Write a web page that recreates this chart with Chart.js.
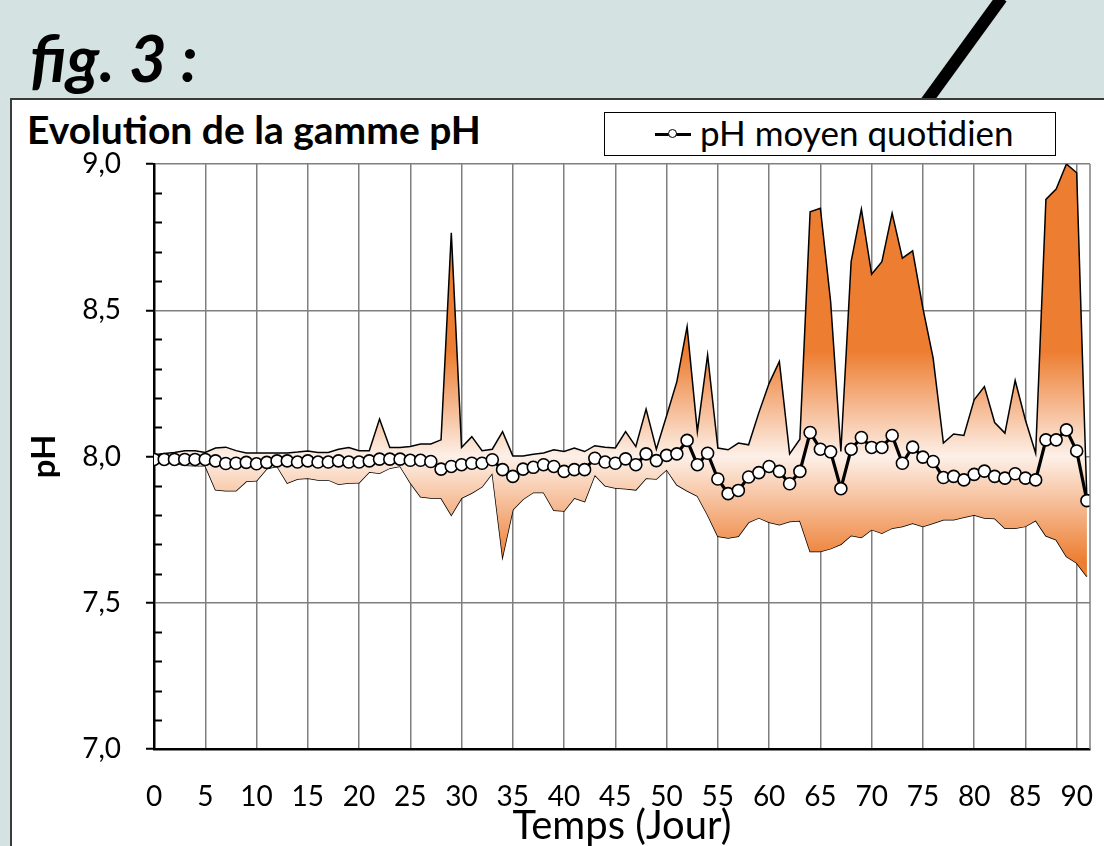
<!DOCTYPE html>
<html>
<head>
<meta charset="utf-8">
<script src="https://cdn.jsdelivr.net/npm/chart.js@4.4.1/dist/chart.umd.min.js"></script>
<style>
  html, body { margin: 0; padding: 0; }
  body { width: 1104px; height: 846px; overflow: hidden; position: relative; background: #d4e3e1; font-family: Lato, "Open Sans", sans-serif; }
  #slash { position: absolute; left: 956px; top: -15px; width: 12px; height: 135px; background: #000; transform: rotate(36deg); }
  #box { position: absolute; left: 10px; top: 98px; width: 1110px; height: 760px; background: #fff; border-top: 2px solid #3a3a3a; border-left: 2px solid #3a3a3a; }
  #fig { position: absolute; left: 30px; top: 25px; font: italic bold 65px Lato, sans-serif; line-height: 64px; color: #000; }
  #title { position: absolute; left: 27px; top: 107px; font: bold 39px Lato, sans-serif; line-height: 44px; color: #000; }
  #legend { position: absolute; left: 604px; top: 112px; width: 450px; height: 42px; border: 1.5px solid #000; background: #fff; }
  #legend .ln { position: absolute; left: 50px; top: 20px; width: 36px; height: 2.5px; background: #000; }
  #legend .pt { position: absolute; left: 63px; top: 16px; width: 7px; height: 7px; border: 1.5px solid #000; border-radius: 50%; background: #fff; }
  #legend .tx { position: absolute; left: 95px; top: -1px; font: 35px Lato, sans-serif; line-height: 40px; color: #000; }
  #chart { position: absolute; left: 0; top: 0; }
</style>
</head>
<body>
<div id="slash"></div>
<div id="box"></div>
<div id="fig">fig. 3 :</div>
<div id="title">Evolution de la gamme pH</div>
<div id="legend"><div class="ln"></div><div class="pt"></div><div class="tx">pH moyen quotidien</div></div>
<canvas id="chart" width="1104" height="846"></canvas>
<script>
// Jours
const days = [0,1,2,3,4,5,6,7,8,9,10,11,12,13,14,15,16,17,18,19,20,21,22,23,24,25,26,27,28,29,
  30,31,32,33,34,35,36,37,38,39,40,41,42,43,44,45,46,47,48,49,50,51,52,53,54,55,56,57,58,59,
  60,61,62,63,64,65,66,67,68,69,70,71,72,73,74,75,76,77,78,79,80,81,82,83,84,85,86,87,88,89,90,91];

// pH moyen quotidien
const phMean = [7.99,7.99,7.99,7.99,7.99,7.99,7.985,7.976,7.977,7.98,7.975,7.98,7.985,7.985,7.981,7.985,7.981,7.981,7.985,7.981,
  7.981,7.985,7.991,7.991,7.991,7.987,7.987,7.983,7.957,7.966,7.972,7.977,7.977,7.989,7.955,7.932,7.957,7.963,7.972,7.966,
  7.949,7.955,7.955,7.994,7.981,7.977,7.992,7.972,8.009,7.986,8.004,8.009,8.055,7.972,8.011,7.923,7.873,7.884,7.930,7.945,
  7.966,7.949,7.907,7.949,8.082,8.025,8.016,7.890,8.025,8.065,8.031,8.031,8.072,7.977,8.032,7.998,7.983,7.928,7.932,7.920,
  7.939,7.950,7.932,7.926,7.941,7.926,7.920,8.057,8.057,8.091,8.019,7.849];

// pH maximum
const phMax = [8.006,8.01,8.014,8.02,8.02,8.014,8.029,8.032,8.02,8.012,8.012,8.012,8.012,8.012,8.015,8.019,8.014,8.014,8.025,8.031,
  8.02,8.02,8.128,8.031,8.031,8.034,8.043,8.043,8.057,8.765,8.031,8.068,8.02,8.025,8.085,8.002,8.002,8.008,8.012,8.023,
  8.017,8.029,8.017,8.037,8.032,8.029,8.085,8.034,8.162,8.025,8.139,8.256,8.444,8.085,8.347,8.029,8.023,8.046,8.04,8.15,
  8.25,8.325,8.009,8.059,8.837,8.849,8.53,8.017,8.666,8.846,8.623,8.666,8.832,8.678,8.703,8.507,8.336,8.046,8.077,8.072,
  8.194,8.239,8.116,8.08,8.26,8.125,8.011,8.879,8.914,9.0,8.97,7.85];

// pH minimum
const phMin = [7.99,7.983,7.977,7.97,7.968,7.968,7.886,7.883,7.883,7.915,7.917,7.958,7.967,7.909,7.923,7.926,7.92,7.92,7.905,7.909,
  7.91,7.947,7.943,7.96,7.967,7.91,7.862,7.858,7.858,7.80,7.858,7.875,7.897,7.943,7.658,7.818,7.854,7.877,7.877,7.816,
  7.814,7.858,7.846,7.937,7.90,7.892,7.89,7.886,7.926,7.923,7.955,7.903,7.883,7.865,7.80,7.727,7.721,7.727,7.775,7.79,
  7.775,7.767,7.778,7.78,7.675,7.675,7.685,7.70,7.73,7.723,7.75,7.738,7.755,7.761,7.772,7.761,7.772,7.784,7.784,7.792,
  7.80,7.79,7.788,7.755,7.755,7.761,7.781,7.729,7.715,7.658,7.636,7.59];

const xTicks = [0,5,10,15,20,25,30,35,40,45,50,55,60,65,70,75,80,85,90];

const pts = arr => days.map((d, i) => ({ x: d, y: arr[i] }));

// fond degrade orange -> blanc -> orange
function bandFill(c) {
  const chart = c.chart;
  if (!chart.chartArea) return "#f4b183";
  const y = chart.scales.y;
  const g = chart.ctx.createLinearGradient(0, y.getPixelForValue(8.36), 0, y.getPixelForValue(7.64));
  g.addColorStop(0, "#ed7d31");
  g.addColorStop(0.5, "#fdf0e8");
  g.addColorStop(1, "#ed7d31");
  return g;
}

// petites graduations (0,1) + bord droit
const axisDeco = {
  id: "axisDeco",
  afterDraw(chart) {
    const { ctx, chartArea: a, scales: { y } } = chart;
    ctx.save();
    ctx.strokeStyle = "#7f7f7f";
    ctx.lineWidth = 1.5;
    ctx.beginPath();
    ctx.moveTo(a.right, a.top);
    ctx.lineTo(a.right, a.bottom);
    ctx.stroke();
    ctx.strokeStyle = "#000";
    ctx.lineWidth = 2;
    for (let k = 71; k < 90; k++) {
      if (k % 5 === 0) continue;
      const py = Math.round(y.getPixelForValue(k / 10)) + 0.5;
      ctx.beginPath();
      ctx.moveTo(a.left, py);
      ctx.lineTo(a.left + 8, py);
      ctx.stroke();
    }
    ctx.restore();
  }
};

new Chart(document.getElementById("chart"), {
  type: "line",
  data: {
    datasets: [
      { label: "max", data: pts(phMax), borderColor: "#000", borderWidth: 1.5, pointRadius: 0,
        fill: "+1", backgroundColor: bandFill, order: 2 },
      { label: "min", data: pts(phMin), borderColor: "#000", borderWidth: 1.5, pointRadius: 0,
        fill: false, order: 2 },
      { label: "pH moyen quotidien", data: pts(phMean), borderColor: "#000", borderWidth: 3.2,
        pointRadius: 6, pointBackgroundColor: "#fff", pointBorderColor: "#000", pointBorderWidth: 1.6,
        fill: false, order: 0 }
    ]
  },
  options: {
    responsive: false,
    animation: false,
    devicePixelRatio: 1,
    layout: { padding: { left: 25, top: 164, right: 14, bottom: 0 } },
    plugins: { legend: { display: false }, tooltip: { enabled: false } },
    scales: {
      x: {
        type: "linear", min: 0, max: 91.3,
        afterBuildTicks: s => { s.ticks = xTicks.map(v => ({ value: v })); },
        afterFit: s => { s.height = 97; s.paddingRight = 0; s.paddingLeft = 0; },
        grid: { color: "#7f7f7f", lineWidth: 1.5, drawTicks: false },
        border: { color: "#000", width: 2.5 },
        ticks: { color: "#000", font: { family: "Lato", size: 28 }, padding: 31, maxRotation: 0, autoSkip: false },
        title: { display: true, text: "Temps (Jour)", color: "#000", font: { family: "Lato", size: 40, lineHeight: 1 }, padding: { top: 0, bottom: 0 } }
      },
      y: {
        min: 7, max: 9,
        afterFit: s => { s.width = 129; },
        grid: { color: "#7f7f7f", lineWidth: 1.5, tickLength: 8, tickColor: "#000", tickWidth: 2 },
        border: { color: "#000", width: 2.5 },
        ticks: { stepSize: 0.5, color: "#000", font: { family: "Lato", size: 28 }, padding: 25,
          callback: v => v.toFixed(1).replace(".", ",") },
        title: { display: true, text: "pH", color: "#000", font: { family: "Lato", size: 33, weight: "bold" }, padding: { top: 0, bottom: 0 } }
      }
    }
  },
  plugins: [axisDeco]
});
</script>
</body>
</html>
